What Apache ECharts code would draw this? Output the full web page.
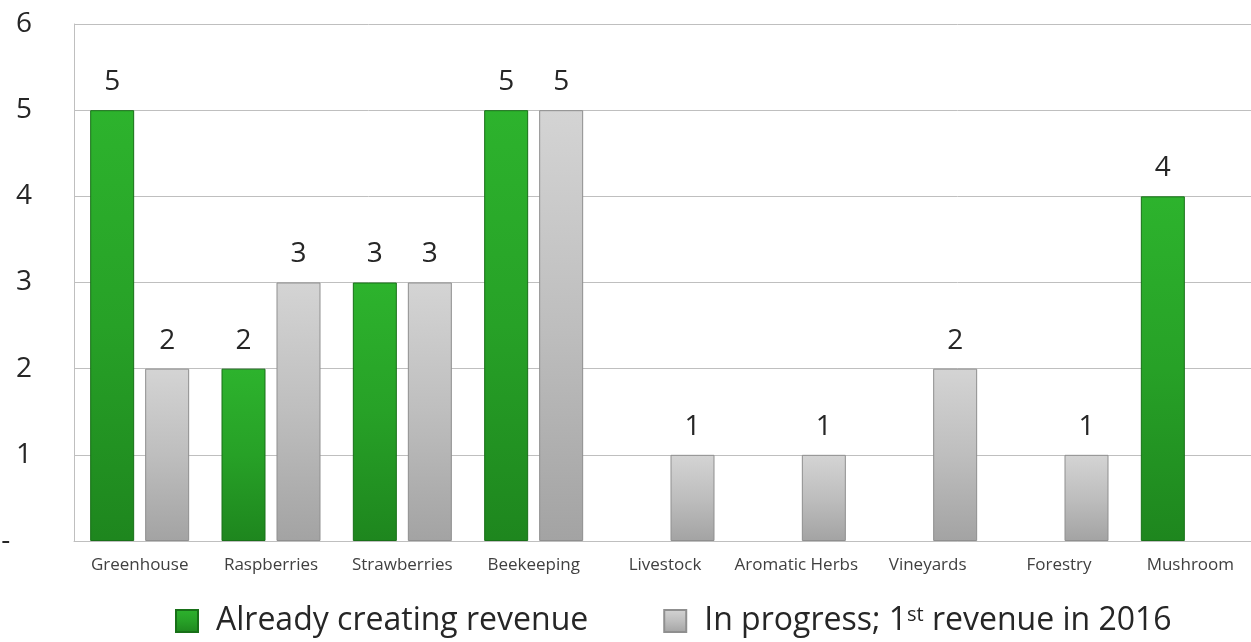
<!DOCTYPE html>
<html lang="en">
<head>
    <meta charset="UTF-8">
    <title>echarts</title>
    <script src="https://cdn.jsdelivr.net/npm/echarts@6/dist/echarts.min.js"></script>
    <style>
        html, body { margin: 0; padding: 0; background: #fff; }
    </style>
</head>
<body>
<div id="main" style="width: 1251px;height:642px;"></div>

<script type="text/javascript">
    var categories = ['Greenhouse', 'Raspberries', 'Strawberries', 'Beekeeping', 'Livestock', 'Aromatic Herbs', 'Vineyards', 'Forestry', 'Mushroom'];
    var alreadyRevenue = [5, 2, 3, 5, '-', '-', '-', '-', 4];
    var inProgress = [2, 3, 3, 5, 1, 1, 2, 1, '-'];
    var yTicks = [0, 1, 2, 3, 4, 5, 6];

    var fontFam = '"Open Sans", "Noto Sans", sans-serif';

    var myChart = echarts.init(document.getElementById('main'));

    // vertical gradients, a bit like the bevelled office bars
    var greenFill = new echarts.graphic.LinearGradient(0, 0, 0, 1, [
        {offset: 0, color: '#2db32d'},
        {offset: 0.5, color: '#27a127'},
        {offset: 1, color: '#1e861e'}
    ]);
    var grayFill = new echarts.graphic.LinearGradient(0, 0, 0, 1, [
        {offset: 0, color: '#d4d4d4'},
        {offset: 0.5, color: '#bebebe'},
        {offset: 1, color: '#a3a3a3'}
    ]);

    var labelStyle = {
        show: true,
        position: 'top',
        distance: 14,
        fontSize: 28,
        fontFamily: fontFam,
        color: '#262626'
    };

    var option = {
        animation: false,
        grid: {
            left: 74,
            top: 24,
            bottom: 101,
            width: 1182,
            containLabel: false,
            outerBoundsMode: 'none'
        },
        legend: {
            left: 170,
            top: 600,
            itemWidth: 22,
            itemHeight: 22,
            itemGap: 75,
            icon: 'rect',
            textStyle: {
                fontSize: 32,
                fontFamily: fontFam,
                color: '#262626',
                rich: {
                    a: {fontSize: 32, fontFamily: fontFam, color: '#262626', padding: [0, 0, 0, 13]},
                    b: {fontSize: 32, fontFamily: fontFam, color: '#262626'},
                    sup: {fontSize: 20, fontFamily: fontFam, color: '#262626', verticalAlign: 'top', padding: [0, 0, 12, 0]}
                }
            },
            formatter: function (name) {
                if (name.indexOf('1st') >= 0) {
                    return '{a|In progress; 1}{sup|st}{b| revenue in 2016}';
                }
                return '{a|' + name + '}';
            },
            data: ['Already creating revenue', 'In progress; 1st revenue in 2016']
        },
        xAxis: {
            type: 'category',
            data: categories,
            axisLine: {lineStyle: {color: '#bfbfbf', width: 1}},
            axisTick: {show: false},
            axisLabel: {
                fontSize: 17,
                fontFamily: fontFam,
                color: '#404040',
                margin: 16,
                interval: 0
            }
        },
        yAxis: {
            type: 'value',
            min: yTicks[0],
            max: yTicks[yTicks.length - 1],
            interval: 1,
            axisLine: {show: true, lineStyle: {color: '#bfbfbf', width: 1}},
            axisTick: {show: false},
            splitLine: {lineStyle: {color: '#bfbfbf', width: 1}},
            axisLabel: {
                fontSize: 28,
                fontFamily: fontFam,
                color: '#262626',
                margin: 42,
                formatter: function (v) {
                    return v === 0 ? '-   ' : String(v);
                }
            }
        },
        series: [
            {
                name: 'Already creating revenue',
                type: 'bar',
                barWidth: 44,
                barGap: '25%',
                data: alreadyRevenue,
                itemStyle: {color: greenFill, borderColor: '#187018', borderWidth: 1},
                label: labelStyle
            },
            {
                name: 'In progress; 1st revenue in 2016',
                type: 'bar',
                barWidth: 44,
                data: inProgress,
                itemStyle: {color: grayFill, borderColor: '#8f8f8f', borderWidth: 1},
                label: labelStyle
            }
        ]
    };

    myChart.setOption(option);
</script>
</body>
</html>
